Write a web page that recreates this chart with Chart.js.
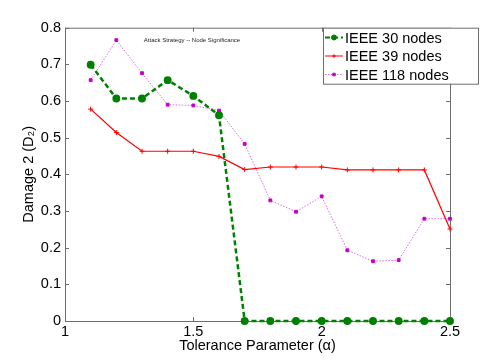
<!DOCTYPE html>
<html>
<head>
<meta charset="utf-8">
<script src="https://cdn.jsdelivr.net/npm/chart.js@4.4.1/dist/chart.umd.min.js"></script>
<style>
  html, body { margin: 0; padding: 0; background: #fff; }
  #wrap { width: 498px; height: 361px; }
</style>
</head>
<body>
<div id="wrap"><canvas id="damageChart" width="498" height="361"></canvas></div>
<script>
// tolerance parameter (alpha)
const alphaValues = [1.1, 1.2, 1.3, 1.4, 1.5, 1.6, 1.7, 1.8, 1.9, 2.0, 2.1, 2.2, 2.3, 2.4, 2.5];
// damage 2 per test system
const ieee30 = [0.699, 0.607, 0.607, 0.657, 0.614, 0.561, 0, 0, 0, 0, 0, 0, 0, 0, 0];
const ieee39 = [0.578, 0.514, 0.463, 0.463, 0.463, 0.449, 0.413, 0.420, 0.420, 0.420, 0.412, 0.412, 0.412, 0.412, 0.251];
const ieee118 = [0.657, 0.766, 0.676, 0.590, 0.588, 0.574, 0.483, 0.329, 0.298, 0.340, 0.193, 0.163, 0.166, 0.279, 0.279];
const seriesLabels = ["IEEE 30 nodes", "IEEE 39 nodes", "IEEE 118 nodes"];
const xTicks = [1, 1.5, 2, 2.5];
const yTicks = [0, 0.1, 0.2, 0.3, 0.4, 0.5, 0.6, 0.7, 0.8];

const FONT = '"Liberation Sans", Arial, sans-serif';
const AXIS_GREY = "#6e6e6e";

function pairs(ys) {
  return ys.map((v, i) => ({ x: alphaValues[i], y: v }));
}

// matlab style box with inward ticks, axis labels, title and legend
const matlabAxes = {
  id: "matlabAxes",
  beforeDatasetsDraw(chart) {
    const { ctx, chartArea: a, scales } = chart;
    ctx.save();
    ctx.strokeStyle = AXIS_GREY;
    ctx.lineWidth = 1;
    ctx.strokeRect(a.left + 0.5, a.top + 0.5, a.right - a.left, a.bottom - a.top);
    ctx.beginPath();
    xTicks.forEach(v => {
      const px = Math.round(scales.x.getPixelForValue(v)) + 0.5;
      ctx.moveTo(px, a.bottom); ctx.lineTo(px, a.bottom - 4);
      ctx.moveTo(px, a.top); ctx.lineTo(px, a.top + 4);
    });
    yTicks.forEach(v => {
      const py = Math.round(scales.y.getPixelForValue(v)) + 0.5;
      ctx.moveTo(a.left, py); ctx.lineTo(a.left + 4, py);
      ctx.moveTo(a.right, py); ctx.lineTo(a.right - 4, py);
    });
    ctx.stroke();
    ctx.restore();
  },
  afterDraw(chart) {
    const { ctx, chartArea: a } = chart;
    ctx.save();
    ctx.fillStyle = "#000";
    ctx.font = "14.5px " + FONT;
    ctx.textAlign = "center";
    ctx.textBaseline = "middle";
    ctx.fillText("Tolerance Parameter (\u03b1)", (a.left + a.right) / 2, 346);

    ctx.save();
    ctx.translate(29, (a.top + a.bottom) / 2);
    ctx.rotate(-Math.PI / 2);
    ctx.fillText("Damage 2 (D\u2082)", 0, 0);
    ctx.restore();

    ctx.font = "6px " + FONT;
    ctx.fillStyle = "#222";
    ctx.fillText("Attack Strategy -- Node Significance", 192, 40);

    // legend
    const lx = 323, ly = a.top, lw = 155, lh = 56;
    ctx.fillStyle = "#fff";
    ctx.fillRect(lx, ly, lw, lh);
    ctx.strokeStyle = AXIS_GREY;
    ctx.lineWidth = 1;
    ctx.strokeRect(lx + 0.5, ly + 0.5, lw, lh);
    const rows = [37.5, 56, 74.5];
    chart.data.datasets.forEach((ds, i) => {
      const y = rows[i];
      ctx.save();
      ctx.strokeStyle = ds.borderColor;
      ctx.lineWidth = i === 0 ? 2 : 1;
      ctx.setLineDash(ds.borderDash || []);
      ctx.beginPath();
      ctx.moveTo(lx + 2, y); ctx.lineTo(lx + 20, y);
      ctx.stroke();
      ctx.setLineDash([]);
      ctx.fillStyle = ds.pointBackgroundColor;
      ctx.strokeStyle = ds.pointBorderColor;
      ctx.lineWidth = 1;
      Chart.helpers.drawPoint(ctx, { pointStyle: ds.pointStyle, radius: i === 0 ? 2.5 : 1.8, borderWidth: 1 }, lx + 11, y);
      ctx.restore();
      ctx.fillStyle = "#000";
      ctx.font = "14.5px " + FONT;
      ctx.textAlign = "left";
      ctx.fillText(ds.label, lx + 22, y + 1);
    });
    ctx.restore();
  }
};

new Chart(document.getElementById("damageChart"), {
  type: "line",
  data: {
    datasets: [
      {
        label: seriesLabels[0],
        data: pairs(ieee30),
        borderColor: "#008000",
        borderWidth: 2.5,
        borderDash: [5, 3],
        pointStyle: "circle",
        pointRadius: 2.7,
        pointBackgroundColor: "#008000",
        pointBorderColor: "#008000",
        clip: false
      },
      {
        label: seriesLabels[1],
        data: pairs(ieee39),
        borderColor: "#ff0000",
        borderWidth: 1.2,
        pointStyle: "cross",
        pointRadius: 2.5,
        pointBackgroundColor: "#ff0000",
        pointBorderColor: "#ff0000",
        pointBorderWidth: 1,
        clip: false
      },
      {
        label: seriesLabels[2],
        data: pairs(ieee118),
        borderColor: "#e266e2",
        borderWidth: 1,
        borderDash: [1.5, 1.5],
        pointStyle: "rect",
        pointRadius: 2,
        pointBackgroundColor: "#c400c4",
        pointBorderColor: "#c400c4",
        clip: false
      }
    ]
  },
  options: {
    responsive: false,
    animation: false,
    layout: { padding: { left: 0, right: 48, top: 27.7, bottom: 0 } },
    plugins: { legend: { display: false }, title: { display: false }, tooltip: { enabled: false } },
    elements: { line: { tension: 0 } },
    scales: {
      x: {
        type: "linear",
        min: 1, max: 2.5,
        afterBuildTicks: s => { s.ticks = xTicks.map(v => ({ value: v })); },
        ticks: { color: "#000", font: { family: FONT, size: 14.5 }, padding: 2, maxRotation: 0,
                 callback: v => String(v) },
        grid: { display: false, drawTicks: false },
        border: { display: false },
        afterFit: s => { s.height = 40; }
      },
      y: {
        type: "linear",
        min: 0, max: 0.8,
        afterBuildTicks: s => { s.ticks = yTicks.map(v => ({ value: v })); },
        ticks: { color: "#000", font: { family: FONT, size: 14.5 }, padding: 4,
                 callback: v => String(v) },
        grid: { display: false, drawTicks: false },
        border: { display: false },
        afterFit: s => { s.width = 65; }
      }
    }
  },
  plugins: [matlabAxes]
});
</script>
</body>
</html>
